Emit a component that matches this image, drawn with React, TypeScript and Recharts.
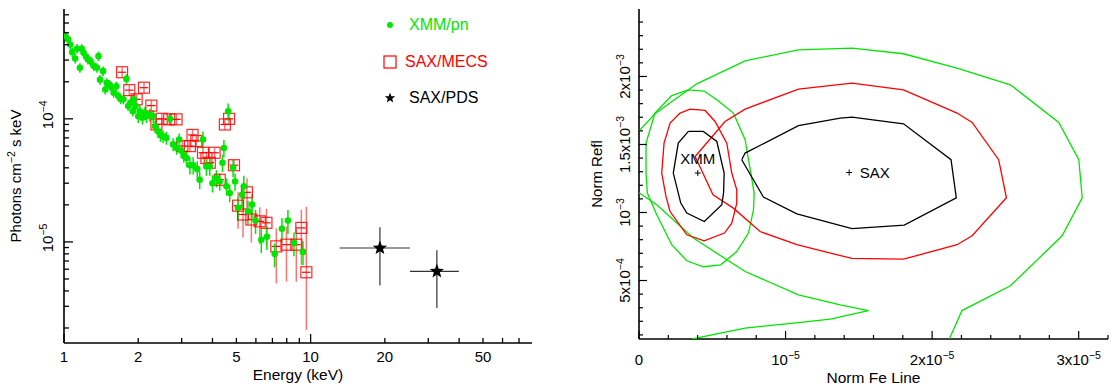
import React from 'react';
import { ScatterChart, Scatter, XAxis, YAxis, ErrorBar, Legend, LabelList } from 'recharts';

const GREEN = '#00e600';
const RED = '#ff0000';
const FONT = '"Liberation Sans", Arial, Helvetica, sans-serif';
const AXIS = { stroke: '#000', strokeWidth: 1.6 };

// ---- left panel: unfolded spectrum ----
// XMM/pn (keV, photons cm-2 s-1 keV-1, fractional error)
const xmmEnergy = [
  1.01, 1.04, 1.06, 1.08, 1.11, 1.13, 1.16, 1.18, 1.2, 1.23,
  1.25, 1.28, 1.32, 1.36, 1.38, 1.4, 1.44, 1.47, 1.49, 1.53,
  1.56, 1.59, 1.63, 1.66, 1.7, 1.74, 1.79, 1.82, 1.86, 1.9,
  1.92, 1.95, 2.0, 2.03, 2.08, 2.13, 2.16, 2.23, 2.3, 2.34,
  2.41, 2.46, 2.52, 2.6, 2.69, 2.77, 2.86, 2.93, 2.99, 3.06,
  3.14, 3.24, 3.34, 3.47, 3.55, 3.66, 3.78, 3.9, 4.0, 4.15,
  4.28, 4.39, 4.45, 4.56, 4.63, 4.7, 4.85, 4.94, 5.08, 5.27,
  5.36, 5.57, 5.79, 5.98, 6.31, 6.65, 7.15, 7.65, 8.09, 8.56,
  9.31,
];
const xmmFlux = [
  4.7e-4, 4.41e-4, 4.02e-4, 3.48e-4, 3.09e-4, 3.71e-4, 2.6e-4, 3.71e-4, 3.44e-4, 3.19e-4,
  3.03e-4, 2.94e-4, 2.68e-4, 2.6e-4, 3.23e-4, 2.08e-4, 2.44e-4, 1.73e-4, 1.96e-4, 1.9e-4,
  1.79e-4, 1.63e-4, 1.84e-4, 1.53e-4, 1.44e-4, 1.44e-4, 2.11e-4, 1.27e-4, 1.35e-4, 1.15e-4,
  1.44e-4, 1.27e-4, 1.05e-4, 1.15e-4, 1.02e-4, 1.12e-4, 1.05e-4, 1.08e-4, 1.05e-4, 8.7e-5,
  7.9e-5, 7.4e-5, 7.2e-5, 7.0e-5, 1.0e-4, 6.2e-5, 5.8e-5, 6.8e-5, 5.5e-5, 5.0e-5,
  4.8e-5, 4.2e-5, 4.2e-5, 3.9e-5, 3.2e-5, 6.8e-5, 4.1e-5, 4.1e-5, 3.0e-5, 3.3e-5,
  3.1e-5, 4.4e-5, 5.8e-5, 2.83e-5, 1.15e-4, 2.5e-5, 4.0e-5, 3.1e-5, 1.89e-5, 2.42e-5,
  2.83e-5, 1.77e-5, 2.01e-5, 1.49e-5, 1.04e-5, 1.1e-5, 8.0e-6, 1.28e-5, 1.49e-5, 9.8e-6,
  8.3e-6,
];
const xmmErr = [
  0.09, 0.09, 0.09, 0.09, 0.09, 0.09, 0.09, 0.09, 0.09, 0.09,
  0.09, 0.09, 0.09, 0.09, 0.09, 0.09, 0.09, 0.09, 0.09, 0.09,
  0.09, 0.09, 0.09, 0.09, 0.09, 0.09, 0.09, 0.09, 0.09, 0.09,
  0.12, 0.12, 0.12, 0.12, 0.12, 0.12, 0.12, 0.12, 0.12, 0.12,
  0.12, 0.12, 0.12, 0.12, 0.12, 0.12, 0.12, 0.12, 0.12, 0.12,
  0.16, 0.16, 0.16, 0.16, 0.16, 0.16, 0.16, 0.16, 0.16, 0.16,
  0.16, 0.16, 0.16, 0.16, 0.16, 0.16, 0.16, 0.16, 0.22, 0.22,
  0.22, 0.22, 0.22, 0.22, 0.22, 0.22, 0.22, 0.22, 0.22, 0.22,
  0.22,
];

// SAX/MECS
const mecsEnergy = [
  1.72, 1.84, 1.97, 2.11, 2.26, 2.37, 2.49, 2.67, 2.86, 3.02,
  3.24, 3.32, 3.44, 3.66, 3.78, 3.9, 4.08, 4.28, 4.49, 4.67,
  4.89, 5.52, 5.08, 5.32, 5.75, 6.22, 6.62, 7.26, 7.98, 8.75,
  9.17, 9.61,
];
const mecsFlux = [
  2.39e-4, 1.71e-4, 1.44e-4, 1.79e-4, 1.28e-4, 9.0e-5, 1.0e-4, 9.9e-5, 9.9e-5, 6.0e-5,
  6.0e-5, 7.4e-5, 6.6e-5, 5.3e-5, 4.8e-5, 4.4e-5, 5.3e-5, 3.2e-5, 9.0e-5, 1.0e-4,
  4.2e-5, 2.53e-5, 1.97e-5, 1.67e-5, 1.52e-5, 1.47e-5, 1.43e-5, 9.2e-6, 9.5e-6, 9.5e-6,
  1.3e-5, 5.67e-6,
];
const mecsErrLo = [
  0.1, 0.1, 0.1, 0.1, 0.1, 0.1, 0.1, 0.1, 0.1, 0.1,
  0.1, 0.1, 0.1, 0.1, 0.1, 0.1, 0.1, 0.1, 0.1, 0.1,
  0.1, 0.35, 0.35, 0.35, 0.35, 0.35, 0.35, 0.5, 0.5, 0.5,
  0.5, 0.66,
];
const mecsErrHi = [
  0.1, 0.1, 0.1, 0.1, 0.1, 0.1, 0.1, 0.1, 0.1, 0.1,
  0.1, 0.1, 0.1, 0.1, 0.1, 0.1, 0.1, 0.1, 0.1, 0.1,
  0.1, 0.3, 0.3, 0.3, 0.3, 0.3, 0.3, 0.4, 0.4, 0.4,
  0.4, 2.4,
];
const mecsBin = [
  0.04, 0.04, 0.04, 0.04, 0.04, 0.04, 0.04, 0.04, 0.04, 0.04,
  0.04, 0.04, 0.04, 0.04, 0.04, 0.04, 0.04, 0.04, 0.04, 0.04,
  0.04, 0.04, 0.04, 0.04, 0.04, 0.04, 0.04, 0.04, 0.04, 0.04,
  0.04, 0.04,
];

// SAX/PDS
const pdsEnergy = [19.1, 32.5];
const pdsFlux = [8.93e-6, 5.77e-6];
const pdsELo = [13.1, 25.3];
const pdsEHi = [25.3, 39.9];
const pdsFLo = [4.43e-6, 2.9e-6];
const pdsFHi = [1.315e-5, 8.55e-6];

const energyTicks = [1, 2, 3, 4, 5, 6, 7, 8, 9, 10, 20, 30, 40, 50, 60, 70];
const energyLabels = [1, 2, 5, 10, 20, 50];
const fluxTicks = [
  2e-6, 3e-6, 4e-6, 5e-6, 6e-6, 7e-6, 8e-6, 9e-6,
  1e-5, 2e-5, 3e-5, 4e-5, 5e-5, 6e-5, 7e-5, 8e-5, 9e-5,
  1e-4, 2e-4, 3e-4, 4e-4, 5e-4, 6e-4, 7e-4,
];
const fluxLabels: [number, string][] = [[1e-5, '−5'], [1e-4, '−4']];

// ---- right panel: confidence contours (x in 1e-5, y in 1e-3) ----
const xmmC68 = [
  [0.337, 1.596], [0.439, 1.596], [0.531, 1.522], [0.581, 1.29], [0.577, 1.145], [0.565, 1.057],
  [0.446, 0.934], [0.326, 0.996], [0.285, 1.069], [0.234, 1.29], [0.268, 1.51], [0.337, 1.596],
];
const xmmC90 = [
  [0.28, 1.731], [0.348, 1.76], [0.451, 1.75], [0.519, 1.669], [0.599, 1.51], [0.633, 1.29],
  [0.667, 1.167], [0.667, 1.069], [0.633, 0.922], [0.583, 0.849], [0.444, 0.792], [0.326, 0.836],
  [0.212, 1.007], [0.184, 1.118], [0.155, 1.29], [0.171, 1.51], [0.212, 1.657], [0.28, 1.731],
];
const xmmC99 = [
  [0.223, 1.86], [0.337, 1.902], [0.444, 1.893], [0.531, 1.829], [0.644, 1.731], [0.724, 1.535],
  [0.763, 1.29], [0.786, 1.141], [0.781, 1.02], [0.747, 0.849], [0.667, 0.713], [0.558, 0.615],
  [0.439, 0.601], [0.326, 0.645], [0.223, 0.763], [0.121, 0.983], [0.057, 1.143], [0.048, 1.29],
  [0.048, 1.51], [0.109, 1.731], [0.223, 1.86],
];
const saxC68 = [
  [0.701, 1.388], [0.724, 1.437], [1.088, 1.638], [1.373, 1.694], [1.453, 1.701], [1.805, 1.652],
  [2.129, 1.388], [2.165, 1.108], [1.81, 0.907], [1.453, 0.882], [1.077, 0.99], [0.849, 1.113],
  [0.701, 1.388],
];
const saxC90 = [
  [0.383, 1.412], [0.587, 1.669], [0.724, 1.76], [1.088, 1.907], [1.453, 1.951], [1.805, 1.902],
  [2.17, 1.731], [2.273, 1.662], [2.454, 1.388], [2.507, 1.108], [2.273, 0.829], [2.17, 0.763],
  [1.805, 0.657], [1.453, 0.662], [1.077, 0.763], [0.826, 0.86], [0.644, 1.032], [0.505, 1.13],
  [0.383, 1.412],
];
const saxC99Upper = [
  [0.0, 1.6], [0.109, 1.726], [0.394, 1.946], [0.724, 2.115], [1.088, 2.196], [1.453, 2.209],
  [1.805, 2.167], [2.17, 2.062], [2.534, 1.939], [2.864, 1.662], [3.001, 1.388], [3.024, 1.108],
  [2.887, 0.829], [2.534, 0.461], [2.204, 0.279], [2.117, 0.07],
];
const saxC99Lower = [
  [0.0, 1.145], [0.121, 1.057], [0.371, 0.812], [0.724, 0.566], [1.088, 0.395], [1.373, 0.321],
  [1.566, 0.279], [1.305, 0.216], [1.088, 0.191], [0.724, 0.15], [0.362, 0.07],
];
const bestFits = [
  { x: 0.401, y: 1.29, name: 'XMM' },
  { x: 1.434, y: 1.294, name: 'SAX' },
];

const feTicks = [0, 0.2, 0.4, 0.6, 0.8, 1, 1.2, 1.4, 1.6, 1.8, 2, 2.2, 2.4, 2.6, 2.8, 3, 3.2];
const feLabels: [number, string, string][] = [[0, '0', ''], [1, '10', '−5'], [2, '2x10', '−5'], [3, '3x10', '−5']];
const reflTicks = [
  0.1, 0.2, 0.3, 0.4, 0.5, 0.6, 0.7, 0.8, 0.9, 1, 1.1, 1.2,
  1.3, 1.4, 1.5, 1.6, 1.7, 1.8, 1.9, 2, 2.1, 2.2, 2.3, 2.4,
];
const reflLabels: [number, string, string][] = [[0.5, '5x10', '−4'], [1, '10', '−3'], [1.5, '1.5x10', '−3'], [2, '2x10', '−3']];

const near = (a: number, b: number) => Math.abs(a - b) <= Math.abs(b) * 1e-6 + 1e-9;
const toPts = (arr: number[][]) => arr.map(([x, y]) => ({ x, y }));

const xmmRows = xmmEnergy.map((e, i) => ({ e, f: xmmFlux[i], fe: xmmFlux[i] * xmmErr[i] }));
const mecsRows = mecsEnergy.map((e, i) => ({
  e,
  f: mecsFlux[i],
  fe: [mecsFlux[i] * mecsErrLo[i], mecsFlux[i] * mecsErrHi[i]],
  ee: e * mecsBin[i],
}));
const pdsRows = pdsEnergy.map((e, i) => ({
  e,
  f: pdsFlux[i],
  ee: [e - pdsELo[i], pdsEHi[i] - e],
  fe: [pdsFlux[i] - pdsFLo[i], pdsFHi[i] - pdsFlux[i]],
}));

const starPoints = (cx: number, cy: number, R: number, r: number) =>
  Array.from({ length: 10 }, (_, i) => {
    const a = -Math.PI / 2 + (i * Math.PI) / 5;
    const rad = i % 2 === 0 ? R : r;
    return `${cx + rad * Math.cos(a)},${cy + rad * Math.sin(a)}`;
  }).join(' ');

const GreenDot = (p: any) => <circle cx={p.cx} cy={p.cy} r={3.3} fill={GREEN} />;
const RedSquare = (p: any) => (
  <rect x={p.cx - 5.5} y={p.cy - 5.5} width={11} height={11} fill="none" stroke={RED} strokeWidth={1.2} strokeOpacity={0.85} />
);
const Star = (p: any) => <polygon points={starPoints(p.cx, p.cy, 7.5, 3.2)} fill="#000" />;
const Plus = (p: any) => (
  <g stroke="#000" strokeWidth={1}>
    <line x1={p.cx - 3} x2={p.cx + 3} y1={p.cy} y2={p.cy} />
    <line x1={p.cx} x2={p.cx} y1={p.cy - 3} y2={p.cy + 3} />
  </g>
);
const NoShape = () => <g />;

// label with superscript exponent, optionally rotated
function SciLabel({ x, y, mant, exp, rotate, size = 15 }: any) {
  return (
    <text
      x={x}
      y={y}
      textAnchor="middle"
      fontSize={size}
      fontFamily={FONT}
      fill="#000"
      transform={rotate ? `rotate(-90 ${x} ${y})` : undefined}
    >
      {mant}
      {exp && (
        <tspan dy={-6} fontSize={10.5}>
          {exp}
        </tspan>
      )}
    </text>
  );
}

function EnergyTick({ x, y, payload, top }: any) {
  const v = payload.value;
  const len = v === 1 || v === 10 ? 9 : 5;
  return (
    <g>
      <line x1={x} x2={x} y1={y} y2={top ? y + len : y - len} stroke="#000" strokeWidth={1.3} />
      {!top && energyLabels.includes(v) && (
        <text x={x} y={y + 19} textAnchor="middle" fontSize={15} fontFamily={FONT} fill="#000">
          {v}
        </text>
      )}
    </g>
  );
}

function FluxTick({ x, y, payload, right }: any) {
  const v = payload.value;
  const lab = fluxLabels.find((l) => near(v, l[0]));
  const len = lab ? 9 : 5;
  return (
    <g>
      <line x1={x} x2={right ? x - len : x + len} y1={y} y2={y} stroke="#000" strokeWidth={1.3} />
      {!right && lab && (
        <g transform="translate(0,-4)">
          <SciLabel x={x - 10.5} y={y} mant="10" exp={lab[1]} rotate />
        </g>
      )}
    </g>
  );
}

function FeTick({ x, y, payload, top }: any) {
  const v = payload.value;
  const lab = feLabels.find((l) => near(v, l[0]));
  const len = lab ? 8 : 4;
  return (
    <g>
      <line x1={x} x2={x} y1={y} y2={top ? y + len : y - len} stroke="#000" strokeWidth={1.2} />
      {!top && lab && <SciLabel x={x} y={y + 26} mant={lab[1]} exp={lab[2]} />}
    </g>
  );
}

function ReflTick({ x, y, payload, right }: any) {
  const v = payload.value;
  const lab = reflLabels.find((l) => near(v, l[0]));
  const len = lab ? 8 : 4;
  return (
    <g>
      <line x1={x} x2={right ? x - len : x + len} y1={y} y2={y} stroke="#000" strokeWidth={1.2} />
      {!right && lab && <SciLabel x={x - 9} y={y} mant={lab[1]} exp={lab[2]} rotate />}
    </g>
  );
}

function LegendBox() {
  return (
    <svg width={140} height={110} style={{ overflow: 'visible' }}>
      <circle cx={20} cy={20} r={3} fill={GREEN} />
      <text x={39} y={25} fill={GREEN} fontSize={16} fontFamily={FONT}>XMM/pn</text>
      <rect x={14} y={51} width={12} height={12} fill="none" stroke={RED} strokeWidth={1.2} />
      <text x={35} y={62} fill={RED} fontSize={16} fontFamily={FONT}>SAX/MECS</text>
      <polygon points={starPoints(20, 93, 5.5, 2.3)} fill="#000" />
      <text x={39} y={98} fill="#000" fontSize={16} fontFamily={FONT}>SAX/PDS</text>
    </svg>
  );
}

function SpectrumPanel() {
  return (
    <ScatterChart width={560} height={391} margin={{ top: 9, right: 28, bottom: 0, left: 0 }}>
      <XAxis
        xAxisId="e"
        type="number"
        dataKey="e"
        scale="log"
        domain={[1, 79]}
        allowDataOverflow
        ticks={energyTicks}
        interval={0}
        height={48}
        tickSize={0}
        tickMargin={0}
        tickLine={false}
        axisLine={AXIS}
        tick={(p: any) => <EnergyTick {...p} />}
        label={{
          content: (p: any) => (
            <text x={p.viewBox.x + p.viewBox.width / 2} y={p.viewBox.y + 37} textAnchor="middle" fontSize={15.5} fontFamily={FONT} fill="#000">
              Energy (keV)
            </text>
          ),
        }}
      />
      <XAxis
        xAxisId="et"
        orientation="top"
        type="number"
        scale="log"
        domain={[1, 79]}
        allowDataOverflow
        ticks={energyTicks}
        interval={0}
        height={0}
        tickSize={0}
        tickMargin={0}
        tickLine={false}
        axisLine={AXIS}
        tick={(p: any) => <EnergyTick {...p} top />}
      />
      <YAxis
        yAxisId="f"
        type="number"
        dataKey="f"
        scale="log"
        domain={[1.51e-6, 7.8e-4]}
        allowDataOverflow
        ticks={fluxTicks}
        interval={0}
        width={64}
        tickSize={0}
        tickMargin={0}
        tickLine={false}
        axisLine={AXIS}
        tick={(p: any) => <FluxTick {...p} />}
        label={{
          content: (p: any) => {
            const x = p.viewBox.x + 21;
            const y = p.viewBox.y + p.viewBox.height / 2;
            return (
              <text x={x} y={y} textAnchor="middle" fontSize={15} fontFamily={FONT} fill="#000" transform={`rotate(-90 ${x} ${y})`}>
                Photons cm<tspan dy={-6} fontSize={10.5}>−2</tspan>
                <tspan dy={6}> s keV</tspan>
              </text>
            );
          },
        }}
      />
      <YAxis
        yAxisId="fr"
        orientation="right"
        type="number"
        scale="log"
        domain={[1.51e-6, 7.8e-4]}
        allowDataOverflow
        ticks={fluxTicks}
        interval={0}
        width={0}
        tickSize={0}
        tickMargin={0}
        tickLine={false}
        axisLine={AXIS}
        tick={(p: any) => <FluxTick {...p} right />}
      />
      <Legend
        layout="vertical"
        align="center"
        verticalAlign="middle"
        wrapperStyle={{ position: 'absolute', left: 370, top: 5, width: 140, height: 110 }}
        content={() => <LegendBox />}
      />
      <Scatter xAxisId="e" yAxisId="f" data={mecsRows} shape={RedSquare} isAnimationActive={false}>
        <ErrorBar dataKey="fe" direction="y" width={0} stroke={RED} strokeOpacity={0.55} strokeWidth={1.5} />
        <ErrorBar dataKey="ee" direction="x" width={0} stroke={RED} strokeWidth={1.2} />
      </Scatter>
      <Scatter xAxisId="e" yAxisId="f" data={xmmRows} shape={GreenDot} isAnimationActive={false}>
        <ErrorBar dataKey="fe" direction="y" width={0} stroke={GREEN} strokeWidth={1.5} />
      </Scatter>
      <Scatter xAxisId="e" yAxisId="f" data={pdsRows} shape={Star} isAnimationActive={false}>
        <ErrorBar dataKey="fe" direction="y" width={0} stroke="#333" strokeWidth={1.2} />
        <ErrorBar dataKey="ee" direction="x" width={0} stroke="#333" strokeWidth={1.2} />
      </Scatter>
    </ScatterChart>
  );
}

const contours: [number[][], string][] = [
  [saxC99Upper, GREEN],
  [saxC99Lower, GREEN],
  [xmmC99, GREEN],
  [saxC90, RED],
  [xmmC90, RED],
  [saxC68, '#000'],
  [xmmC68, '#000'],
];

function ContourPanel() {
  return (
    <ScatterChart width={552} height={391} margin={{ top: 9, right: 4, bottom: 0, left: 0 }}>
      <XAxis
        xAxisId="x"
        type="number"
        dataKey="x"
        domain={[0, 3.2]}
        allowDataOverflow
        ticks={feTicks}
        interval={0}
        height={52}
        tickSize={0}
        tickMargin={0}
        tickLine={false}
        axisLine={AXIS}
        tick={(p: any) => <FeTick {...p} />}
        label={{
          content: (p: any) => (
            <text x={p.viewBox.x + p.viewBox.width / 2} y={p.viewBox.y + 44} textAnchor="middle" fontSize={15.5} fontFamily={FONT} fill="#000">
              Norm Fe Line
            </text>
          ),
        }}
      />
      <XAxis
        xAxisId="xt"
        orientation="top"
        type="number"
        domain={[0, 3.2]}
        allowDataOverflow
        ticks={feTicks}
        interval={0}
        height={0}
        tickSize={0}
        tickMargin={0}
        tickLine={false}
        axisLine={AXIS}
        tick={(p: any) => <FeTick {...p} top />}
      />
      <YAxis
        yAxisId="y"
        type="number"
        dataKey="y"
        domain={[0.07, 2.496]}
        allowDataOverflow
        ticks={reflTicks}
        interval={0}
        width={79}
        tickSize={0}
        tickMargin={0}
        tickLine={false}
        axisLine={AXIS}
        tick={(p: any) => <ReflTick {...p} />}
        label={{
          content: (p: any) => {
            const x = p.viewBox.x + 42;
            const y = p.viewBox.y + p.viewBox.height / 2;
            return (
              <text x={x} y={y} textAnchor="middle" fontSize={15} fontFamily={FONT} fill="#000" transform={`rotate(-90 ${x} ${y})`}>
                Norm Refl
              </text>
            );
          },
        }}
      />
      <YAxis
        yAxisId="yr"
        orientation="right"
        type="number"
        domain={[0.07, 2.496]}
        allowDataOverflow
        ticks={reflTicks}
        interval={0}
        width={0}
        tickSize={0}
        tickMargin={0}
        tickLine={false}
        axisLine={AXIS}
        tick={(p: any) => <ReflTick {...p} right />}
      />
      {contours.map(([pts, color], i) => (
        <Scatter
          key={i}
          xAxisId="x"
          yAxisId="y"
          data={toPts(pts)}
          fill={color}
          line={{ stroke: color, strokeWidth: 1.3 }}
          shape={NoShape}
          isAnimationActive={false}
        />
      ))}
      <Scatter xAxisId="x" yAxisId="y" data={[bestFits[0]]} shape={Plus} isAnimationActive={false}>
        <LabelList dataKey="name" position="top" offset={5} fill="#000" fontSize={15} fontFamily={FONT} />
      </Scatter>
      <Scatter xAxisId="x" yAxisId="y" data={[bestFits[1]]} shape={Plus} isAnimationActive={false}>
        <LabelList dataKey="name" position="right" offset={6} fill="#000" fontSize={15} fontFamily={FONT} />
      </Scatter>
    </ScatterChart>
  );
}

export default function App() {
  return (
    <div style={{ position: 'absolute', left: 0, top: 0, width: 1112, height: 391, background: '#fff', fontFamily: FONT }}>
      <div style={{ position: 'absolute', left: 0, top: 0 }}>
        <SpectrumPanel />
      </div>
      <div style={{ position: 'absolute', left: 560, top: 0 }}>
        <ContourPanel />
      </div>
    </div>
  );
}
